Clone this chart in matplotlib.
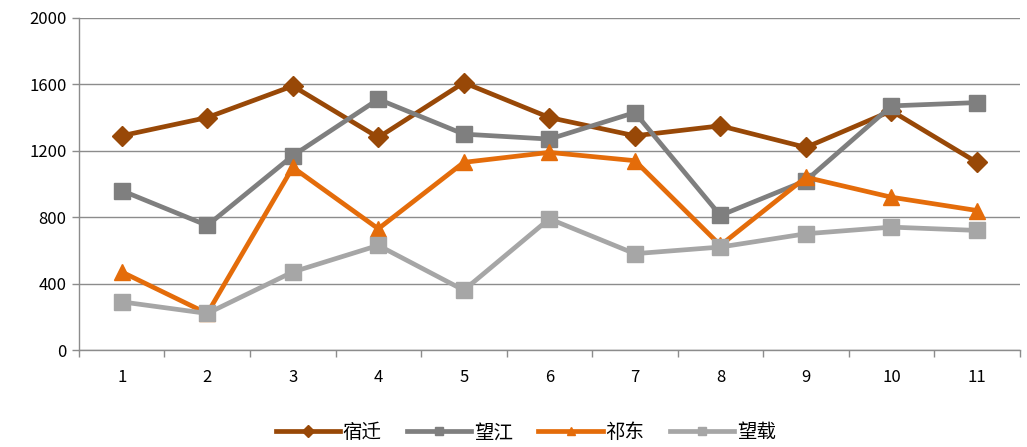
import matplotlib
matplotlib.use("Agg")
import matplotlib.pyplot as plt

plt.rcParams['font.family'] = ['Noto Sans CJK SC', 'DejaVu Sans']

categories = [1, 2, 3, 4, 5, 6, 7, 8, 9, 10, 11]
suqian = [1290, 1400, 1590, 1280, 1610, 1400, 1290, 1350, 1220, 1440, 1130]
wangjiang = [960, 750, 1170, 1510, 1300, 1270, 1430, 810, 1020, 1470, 1490]
qidong = [470, 220, 1100, 730, 1130, 1190, 1140, 630, 1040, 920, 840]
wangzai = [290, 220, 470, 630, 360, 790, 580, 620, 700, 740, 720]
y_ticks = [0, 400, 800, 1200, 1600, 2000]

series = [
    ("宿迁", suqian, "#984807", "D", 10),
    ("望江", wangjiang, "#7F7F7F", "s", 11),
    ("祁东", qidong, "#E46C0A", "^", 12),
    ("望载", wangzai, "#A6A6A6", "s", 11),
]

fig = plt.figure(figsize=(10.27, 4.47), dpi=100)
ax = fig.add_axes([0.0769, 0.217, 0.916, 0.743])

for name, vals, color, marker, ms in series:
    ax.plot(categories, vals, color=color, lw=3.4, marker=marker,
            markersize=ms, markerfacecolor=color, markeredgecolor=color,
            label=name, solid_joinstyle='miter')

ax.set_xlim(0.5, 11.5)
ax.set_ylim(0, 2000)
ax.set_yticks(y_ticks)
ax.set_xticks(categories)
ax.set_xticks([c - 0.5 for c in categories] + [11.5], minor=True)
ax.tick_params(axis='x', which='major', length=0, pad=14, labelsize=12)
ax.tick_params(axis='x', which='minor', length=5, color='#8c8c8c', width=1)
ax.tick_params(axis='y', length=5, color='#8c8c8c', width=1, labelsize=12, pad=4)

ax.grid(axis='y', color='#8c8c8c', lw=1)
ax.set_axisbelow(True)
for s in ['top', 'right']:
    ax.spines[s].set_visible(False)
for s in ['left', 'bottom']:
    ax.spines[s].set_color('#8c8c8c')
    ax.spines[s].set_linewidth(1)

leg = ax.legend(loc='upper center', bbox_to_anchor=(0.475, -0.165), ncol=4,
                frameon=False, fontsize=14, handlelength=3.3,
                columnspacing=1.3, handletextpad=0.15)
for h in leg.legend_handles:
    h.set_markersize(6)

fig.savefig("out.png", dpi=100)
